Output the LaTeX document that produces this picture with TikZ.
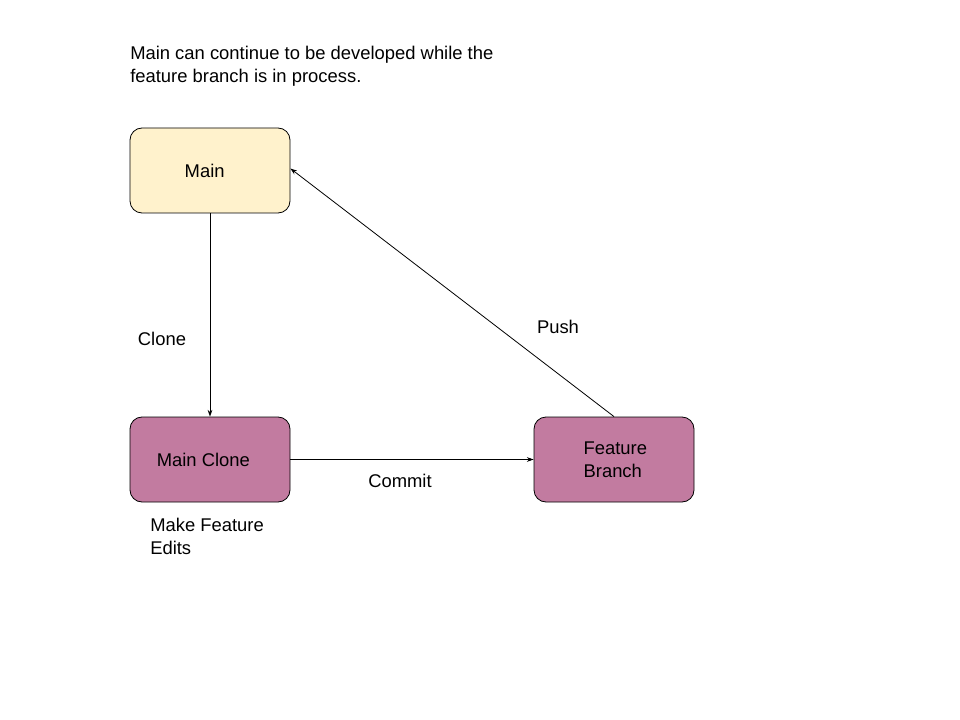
\documentclass[tikz,border=0pt]{standalone}
\usepackage{fontspec}
\setmainfont{Liberation Sans}
\usetikzlibrary{arrows.meta}
\definecolor{mainfill}{HTML}{FFF2CC}
\definecolor{clonefill}{HTML}{C27BA0}
\newcommand{\boxW}[0]{120pt}
\newcommand{\boxH}[0]{63.75pt}

\begin{document}
\begin{tikzpicture}[x=0.75pt, y=-0.75pt,
    every node/.style={font=\fontsize{13.8}{17.25}\selectfont},
    stagebox/.style={draw, rounded corners=9pt, minimum width=\boxW, minimum height=\boxH, inner sep=0pt, align=left, line width=0.6pt},
    flow/.style={-{Stealth[length=5pt,width=3.5pt]}, line width=0.6pt}]
  \useasboundingbox (0,0) rectangle (960,720);
  % note at the top
  \node[anchor=west, align=left, inner sep=0pt] (note) at (130,66)
    {Main can continue to be developed while the\\feature branch is in process.};
  % boxes
  \node[stagebox, fill=mainfill] (main) at (210,170.5) {\hspace*{-8pt}Main};
  \node[stagebox, fill=clonefill] (clone) at (210,459.5) {\hspace*{-10pt}Main Clone};
  \node[stagebox, fill=clonefill] (feature) at (614,459.5) {\hspace*{2pt}Feature\\\hspace*{2pt}Branch};
  % connectors
  \draw[flow] (main.south) -- (clone.north);
  \draw[flow] (clone.east) -- (feature.west);
  \draw[flow] (feature.north) -- ([yshift=1.5pt]main.east);
  % labels
  \node (clonelbl) at (162,339) {Clone};
  \node (commitlbl) at (400,481) {Commit};
  \node (pushlbl) at (558,327) {Push};
  \node[anchor=west, align=left, inner sep=0pt] (editlbl) at (150,536) {Make Feature\\Edits};
\end{tikzpicture}
\end{document}
